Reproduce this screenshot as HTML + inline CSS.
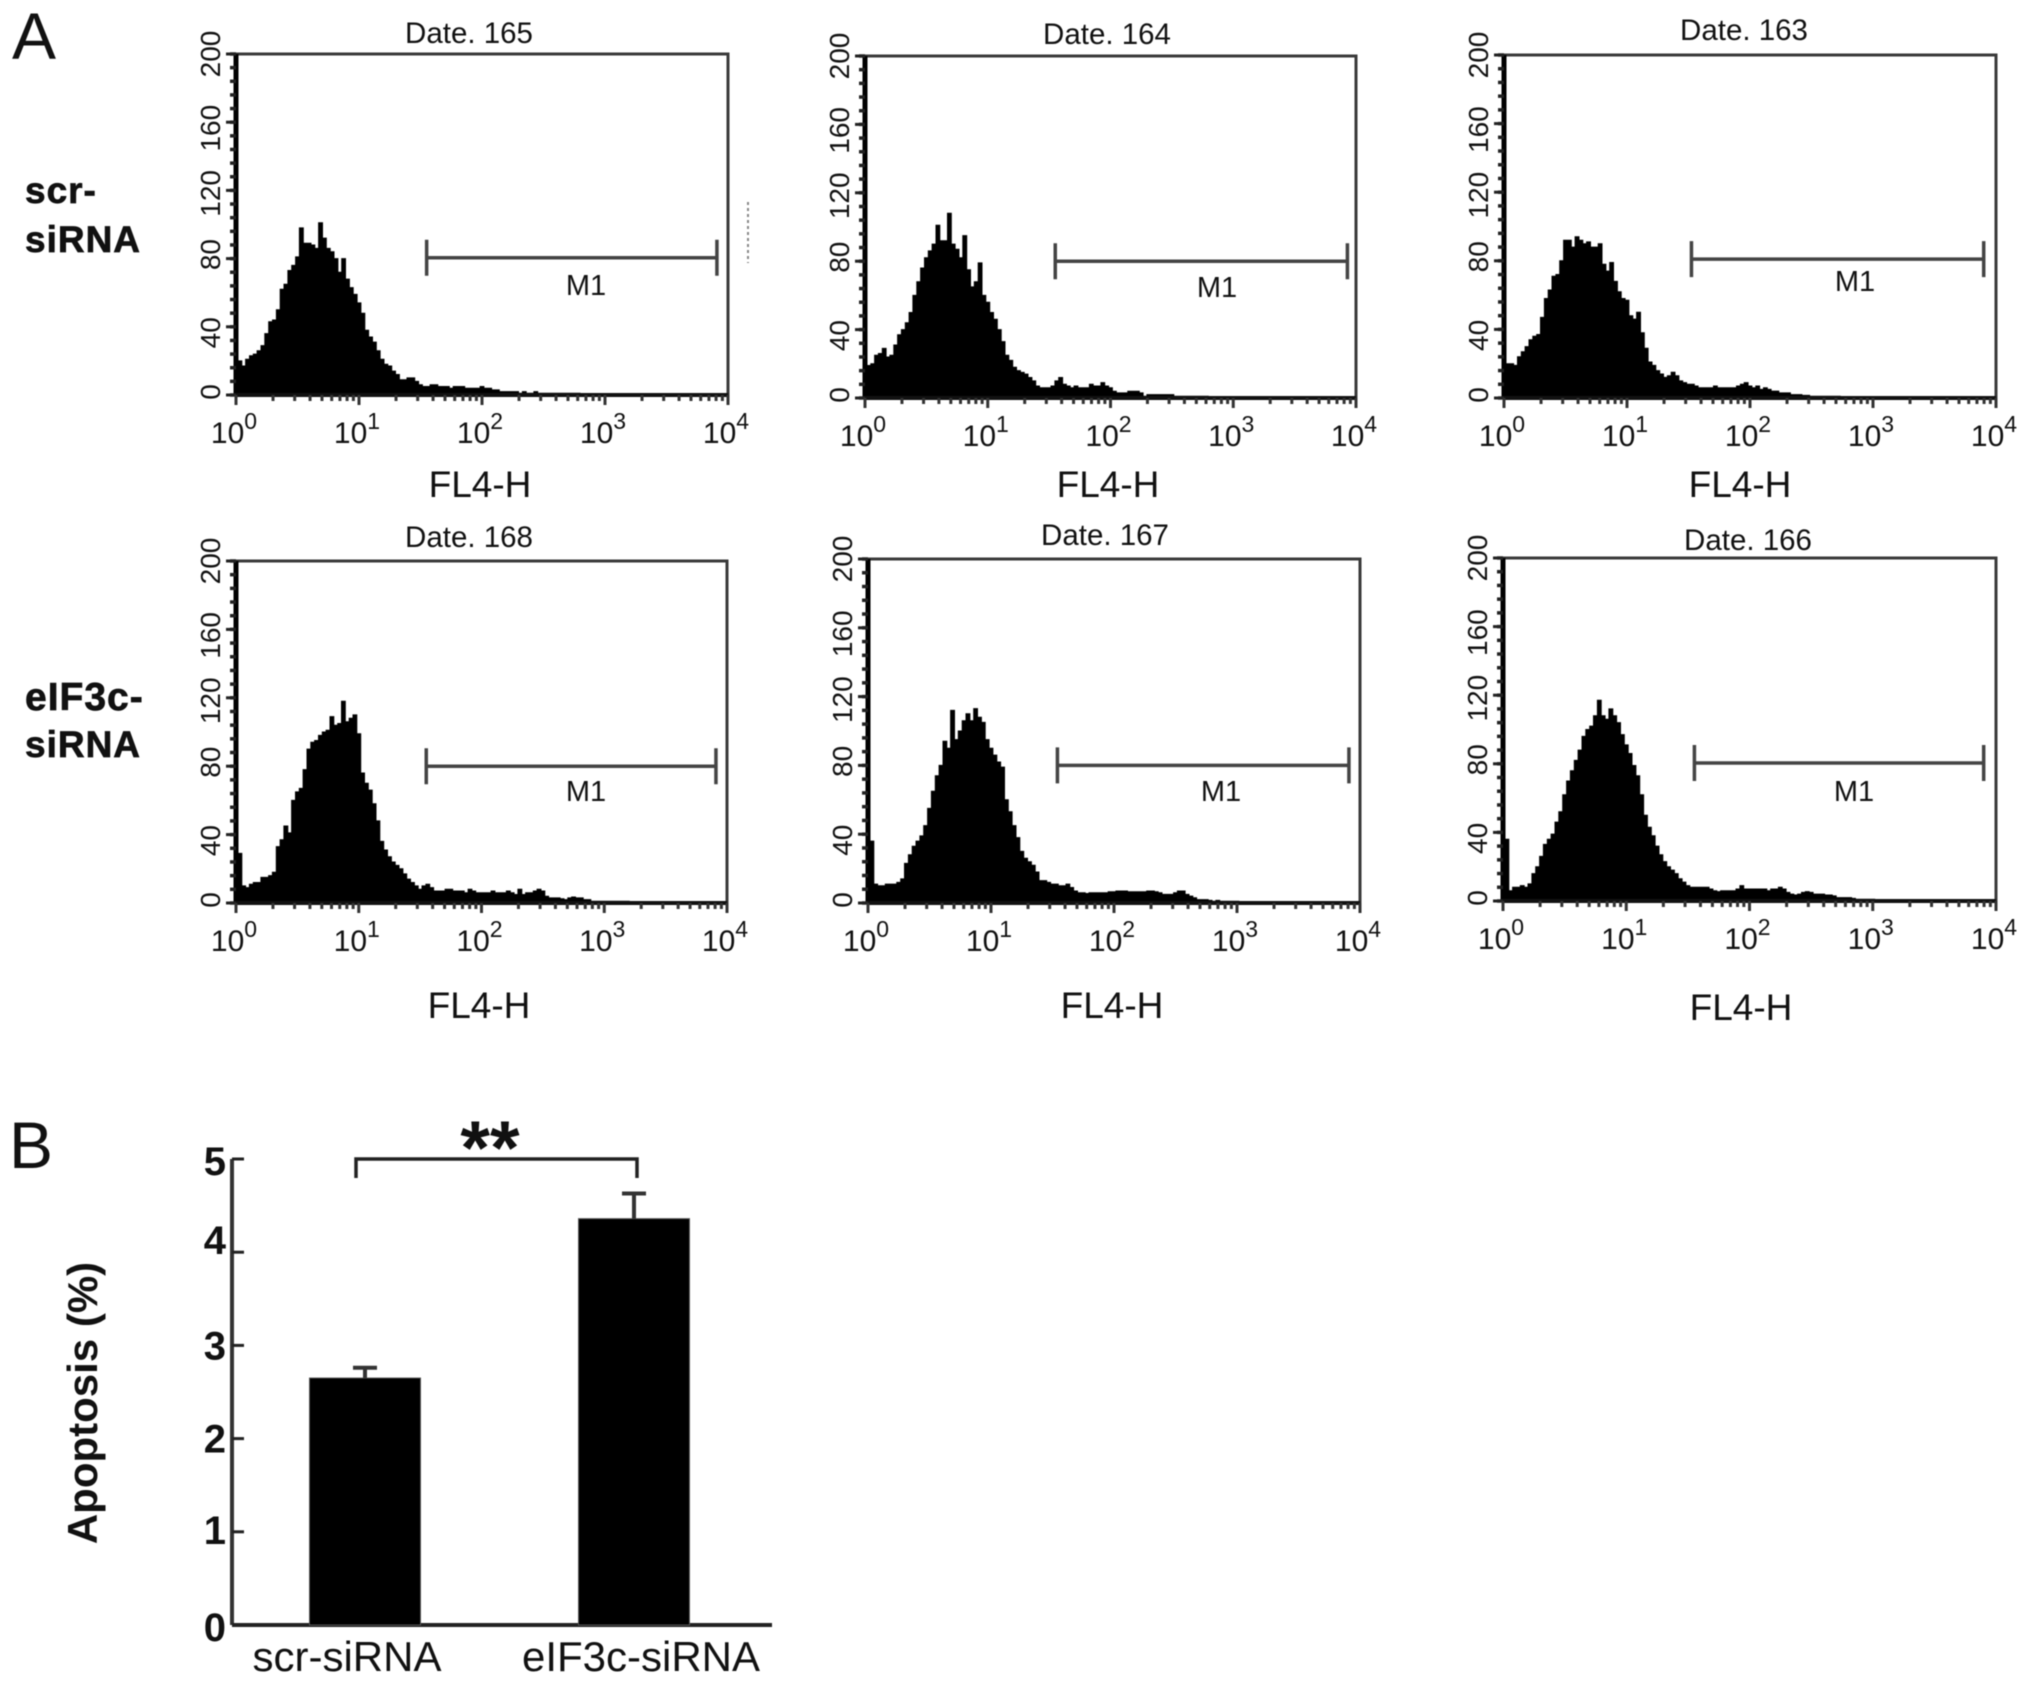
<!DOCTYPE html>
<html lang="en">
<head>
<meta charset="utf-8">
<title>Apoptosis flow cytometry figure</title>
<style>
html,body{margin:0;padding:0;background:#fff;width:2031px;height:1683px;overflow:hidden}
svg{display:block;filter:blur(0.55px)}
text{font-family:"Liberation Sans",sans-serif;fill:#111}
.heavy{stroke:#111;stroke-width:0.7px}
</style>
</head>
<body>
<svg id="fig" xmlns="http://www.w3.org/2000/svg" width="2031" height="1683" viewBox="0 0 2031 1683">
  <rect x="0" y="0" width="2031" height="1683" fill="#fff"/>
  <text x="12" y="59" font-size="66">A</text>
  <text x="9" y="1168" font-size="66">B</text>
  <text class="heavy" x="25" y="203" font-size="37" font-weight="bold" letter-spacing="1">scr-</text>
  <text class="heavy" x="25" y="252" font-size="37" font-weight="bold" letter-spacing="1">siRNA</text>
  <text class="heavy" x="25" y="710" font-size="39" font-weight="bold" letter-spacing="1">eIF3c-</text>
  <text class="heavy" x="25" y="757" font-size="37" font-weight="bold" letter-spacing="1">siRNA</text>
  <line x1="748" y1="202" x2="748" y2="263" stroke="#888" stroke-width="2" stroke-dasharray="3 3"/>
  <g id="histograms"></g>
  <g id="bars"></g>
</svg>
<script>
// ---- Histogram data: counts per channel bin (32 bins per decade) ----
const histDate165 = [107,20,17,21,23,24,26,29,36,43,44,50,62,65,73,76,81,98,89,89,88,86,101,92,86,84,80,72,80,68,63,59,54,48,38,34,31,26,21,18,17,14,12,9,9,10,10,8,6,5,5,6,6,5,5,5,4,5,5,5,4,4,4,4,5,4,4,3,3,2,2,2,2,2,1,2,1,1,2,1,1,1,1,1,1,1,1,1,1,1];
const histDate164 = [109,19,20,25,26,29,24,25,31,37,40,44,50,60,68,76,82,86,90,101,92,92,108,90,87,82,95,75,65,68,79,60,56,50,46,40,33,25,22,18,16,15,14,12,10,7,6,6,6,7,10,12,8,7,6,7,6,6,6,8,7,7,9,7,6,4,3,3,3,4,4,4,3,1,2,2,2,2,2,2,2,1,1,1,1,1,1,1,1,1];
const histDate163 = [110,20,20,19,24,27,30,34,36,37,47,58,63,71,72,80,92,92,88,94,92,90,91,88,88,90,78,74,79,68,62,58,57,48,46,50,38,29,21,19,16,14,12,13,15,13,10,9,8,8,7,6,6,6,6,7,6,6,6,6,6,7,8,9,7,6,7,5,6,5,4,4,3,3,3,2,2,2,1.5,1.5,1,1,1,1,1,1,1,1];
const histDate168 = [53,29,10,9,11,12,12,15,15,16,18,33,37,45,41,60,65,67,78,90,94,95,98,100,101,109,104,105,118,106,108,110,99,76,70,66,58,48,36,31,27,24,22,20,17,14,12,10,8,10,11,9,7,7,7,8,8,7,7,7,6,8,7,6,6,6,6,7,6,6,6,7,6,5,8,5,6,6,7,8,7,4,3,3,3,2.5,2,3,3.5,3,3,2,2,1,1,1,1,1,1,1,1,1,1];
const histDate167 = [64,36,11,10,10,11,11,11,12,14,23,28,33,36,39,45,55,65,74,80,94,90,112,95,100,106,110,106,113,108,105,95,90,86,82,79,60,53,45,38,30,26,24,22,18,13,13,12,11,11,10,10,11,9,7,6,6,5.5,6,6,6,6,6,6.5,6.5,7,7,7,6.5,6.5,6.5,6.5,6.5,7,7,6.5,6,5,5,5,6,7,7,5,4,3,2,2,2,1.5,1,1.5,1,1,1,1,1];
const histDate166 = [64,36,6,8,8,9,8,10,16,20,26,33,36,39,46,52,62,70,76,82,88,96,100,102,108,117,108,106,112,108,104,97,91,86,79,73,62,50,43,38,32,27,23,20,18,16,13,11,9,8,8,8,8,8,7,6,5.5,6,6,6,6,7,9,7,7,7,7,7,7,6,7,7,8,7,5,4,3.5,4,5,5.5,5,4,4,4,3.5,3.5,3,2,2,2,2,1.5,1,1,1,1,1];

// ---- Histogram axis labels ----
const yTickValues = [0,40,80,120,160,200];
const yMinorStep = 8;
const yMax = 200;
const xDecades = [0,1,2,3,4];
const xMinorFactors = [2,3,4,5,6,7,8,9];
const binsPerDecade = 32;

// ---- Panel order and labels ----
const panelTitles = ["Date. 165","Date. 164","Date. 163","Date. 168","Date. 167","Date. 166"];
const panelSeries = [histDate165,histDate164,histDate163,histDate168,histDate167,histDate166];
const xAxisTitle = "FL4-H";
const gateLabel = "M1";
// M1 gate: log10 start, log10 end, height in counts
const gateStart = [1.55,1.55,1.524,1.55,1.54,1.553];
const gateEnd = [3.91,3.93,3.90,3.91,3.91,3.90];
const gateLevel = [80.5,80,81,80,80,80.5];

// ---- Bar chart data ----
const barCategories = ["scr-siRNA","eIF3c-siRNA"];
const barValues = [2.65,4.36];
const barErrors = [0.11,0.27];
const barTicks = [0,1,2,3,4,5];
const barYTitle = "Apoptosis (%)";
const barSignificance = "**";

const SVG_NS = "http://www.w3.org/2000/svg";
function el(parent, tag, attrs, txt) {
  const n = document.createElementNS(SVG_NS, tag);
  for (const k in attrs) n.setAttribute(k, attrs[k]);
  if (txt !== undefined) n.textContent = txt;
  parent.appendChild(n);
  return n;
}

// Layout of the six plot frames on the canvas
const frames = [
  {l:236,r:728,t:54,b:395,titleX:469,titleY:43,fx:480,fy:497,mx:586,my:295},
  {l:865,r:1356,t:56,b:398,titleX:1107,titleY:44,fx:1108,fy:497,mx:1217,my:297},
  {l:1504,r:1996,t:55,b:398,titleX:1744,titleY:40,fx:1740,fy:497,mx:1855,my:291},
  {l:236,r:727,t:561,b:903,titleX:469,titleY:547,fx:479,fy:1018,mx:586,my:801},
  {l:868,r:1360,t:559,b:903,titleX:1105,titleY:545,fx:1112,fy:1018,mx:1221,my:801},
  {l:1503,r:1996,t:558,b:901,titleX:1748,titleY:550,fx:1741,fy:1020,mx:1854,my:801}
];
// Hand-set optical offsets of the rotated count labels
const yLabelNudge = {0:-3,40:6,80:-4,120:3,160:6,200:0};

const histRoot = document.getElementById("histograms");
panelSeries.forEach(function (series, p) {
  const f = frames[p];
  const xDec = function (d) { return f.l + (f.r - f.l) * d / 4; };
  const xBin = function (i) { return xDec(Math.max(i, 0) / binsPerDecade); };
  const y = function (c) { return f.b - (f.b - f.t) * c / yMax; };

  const g = el(histRoot, "g", {});
  
  

  const title = el(g, "text", {x:f.titleX, y:f.titleY, "font-size":29.5, "text-anchor":"middle"}, panelTitles[p]);
  
  

  // histogram fill, drawn as steps
  let d = "M" + xBin(0) + " " + y(0);
  series.forEach(function (c, i) {
    d += "L" + xBin(i - 0.5).toFixed(1) + " " + y(c).toFixed(1);
    d += "L" + xBin(i + 0.5).toFixed(1) + " " + y(c).toFixed(1);
  });
  d += "L" + xBin(series.length - 0.5).toFixed(1) + " " + y(0) + "Z";
  const hist = el(g, "path", {d:d, fill:"#000", stroke:"#000", "stroke-width":1});
  
  

  // frame
  const frame = el(g, "path", {d:"M"+f.l+" "+f.t+"H"+f.r+"V"+f.b, fill:"none", stroke:"#3a3a3a", "stroke-width":3});
  
  
  const yAxis = el(g, "line", {x1:f.l, y1:f.t, x2:f.l, y2:f.b, stroke:"#000", "stroke-width":5});
  
  
  const xAxis = el(g, "line", {x1:f.l, y1:f.b, x2:f.r, y2:f.b, stroke:"#111", "stroke-width":4});
  
  

  // y ticks
  for (let c = 0; c <= yMax; c += yMinorStep) {
    const minor = el(g, "line", {x1:f.l-6, y1:y(c), x2:f.l, y2:y(c), stroke:"#222", "stroke-width":3.5});
    
    
  }
  yTickValues.forEach(function (v) {
    const major = el(g, "line", {x1:f.l-10, y1:y(v), x2:f.l, y2:y(v), stroke:"#222", "stroke-width":3});
    
    
    const lx = f.l - 16;
    const ly = y(v) + yLabelNudge[v];
    const label = el(g, "text", {x:lx, y:ly, "font-size":28, "text-anchor":"middle", transform:"rotate(-90 "+lx+" "+ly+")"}, String(v));
    
    
  });

  // x ticks
  xDecades.forEach(function (dec) {
    const major = el(g, "line", {x1:xDec(dec), y1:f.b, x2:xDec(dec), y2:f.b+10, stroke:"#333", "stroke-width":3});
    
    
    const label = el(g, "text", {x:xDec(dec)-2, y:f.b+48, "font-size":30, "text-anchor":"middle"});
    
    
    el(label, "tspan", {}, "10");
    el(label, "tspan", {dy:-14, "font-size":23}, String(dec));
    if (dec < 4) {
      xMinorFactors.forEach(function (m) {
        const xm = xDec(dec + Math.log10(m));
        const tick = el(g, "line", {x1:xm, y1:f.b, x2:xm, y2:f.b+6, stroke:"#333", "stroke-width":3});
        
        
      });
    }
  });

  // M1 gate
  const gy = y(gateLevel[p]);
  const gx1 = xDec(gateStart[p]);
  const gx2 = xDec(gateEnd[p]);
  const gate = el(g, "path", {d:"M"+gx1+" "+(gy-18)+"V"+(gy+18)+"M"+gx1+" "+gy+"H"+gx2+"M"+gx2+" "+(gy-18)+"V"+(gy+18), fill:"none", stroke:"#444", "stroke-width":3.5});
  
  
  const gateText = el(g, "text", {x:f.mx, y:f.my, "font-size":29, "text-anchor":"middle"}, gateLabel);
  
  

  const xt = el(g, "text", {x:f.fx, y:f.fy, "font-size":37, "text-anchor":"middle"}, xAxisTitle);
  
  
});

// ---- Bar chart ----
const barRoot = document.getElementById("bars");
const barAxisX = 232;
const barAxisRight = 772;
const barY = function (v) { return 1625 - v * 93.2; };
const barX = function (i) { return 365 + i * 269; };
const barWidth = 111;
// Hand-set optical offsets of the bar-axis labels
const barLabelNudge = {0:2,1:-2,2:0,3:0,4:-12,5:2};

const barYAxis = el(barRoot, "line", {x1:barAxisX, y1:barY(5), x2:barAxisX, y2:barY(0), stroke:"#333", "stroke-width":4});


const barXAxis = el(barRoot, "line", {x1:barAxisX, y1:barY(0), x2:barAxisRight, y2:barY(0), stroke:"#222", "stroke-width":4});



barTicks.forEach(function (v) {
  const tick = el(barRoot, "line", {x1:barAxisX, y1:barY(v), x2:barAxisX+12, y2:barY(v), stroke:"#222", "stroke-width":3});
  
  
  const label = el(barRoot, "text", {x:226, y:barY(v)+14+barLabelNudge[v], "font-size":40, "font-weight":"bold", "text-anchor":"end"}, String(v));
  
  
});

barCategories.forEach(function (name, i) {
  const cx = barX(i);
  const bar = el(barRoot, "rect", {x:cx-barWidth/2, y:barY(barValues[i]), width:barWidth, height:barY(0)-barY(barValues[i]), fill:"#000", stroke:"#555", "stroke-width":1});
  
  
  const top = barY(barValues[i] + barErrors[i]);
  const err = el(barRoot, "path", {d:"M"+cx+" "+barY(barValues[i])+"V"+top+"M"+(cx-12)+" "+top+"H"+(cx+12), fill:"none", stroke:"#333", "stroke-width":4});
  
  
  const label = el(barRoot, "text", {x:i === 0 ? 347 : 641, y:1671, "font-size":42, "text-anchor":"middle"}, name);
  
  
});

const bracket = el(barRoot, "path", {d:"M356 1178V1159H637V1178", fill:"none", stroke:"#222", "stroke-width":3.5});


const stars = el(barRoot, "text", {x:490, y:1174, "font-size":76, "font-weight":"bold", "text-anchor":"middle"}, barSignificance);


const yTitle = el(barRoot, "text", {x:97, y:1403, "font-size":42, "font-weight":"bold", "text-anchor":"middle", transform:"rotate(-90 97 1403)"}, barYTitle);


</script>
</body>
</html>
